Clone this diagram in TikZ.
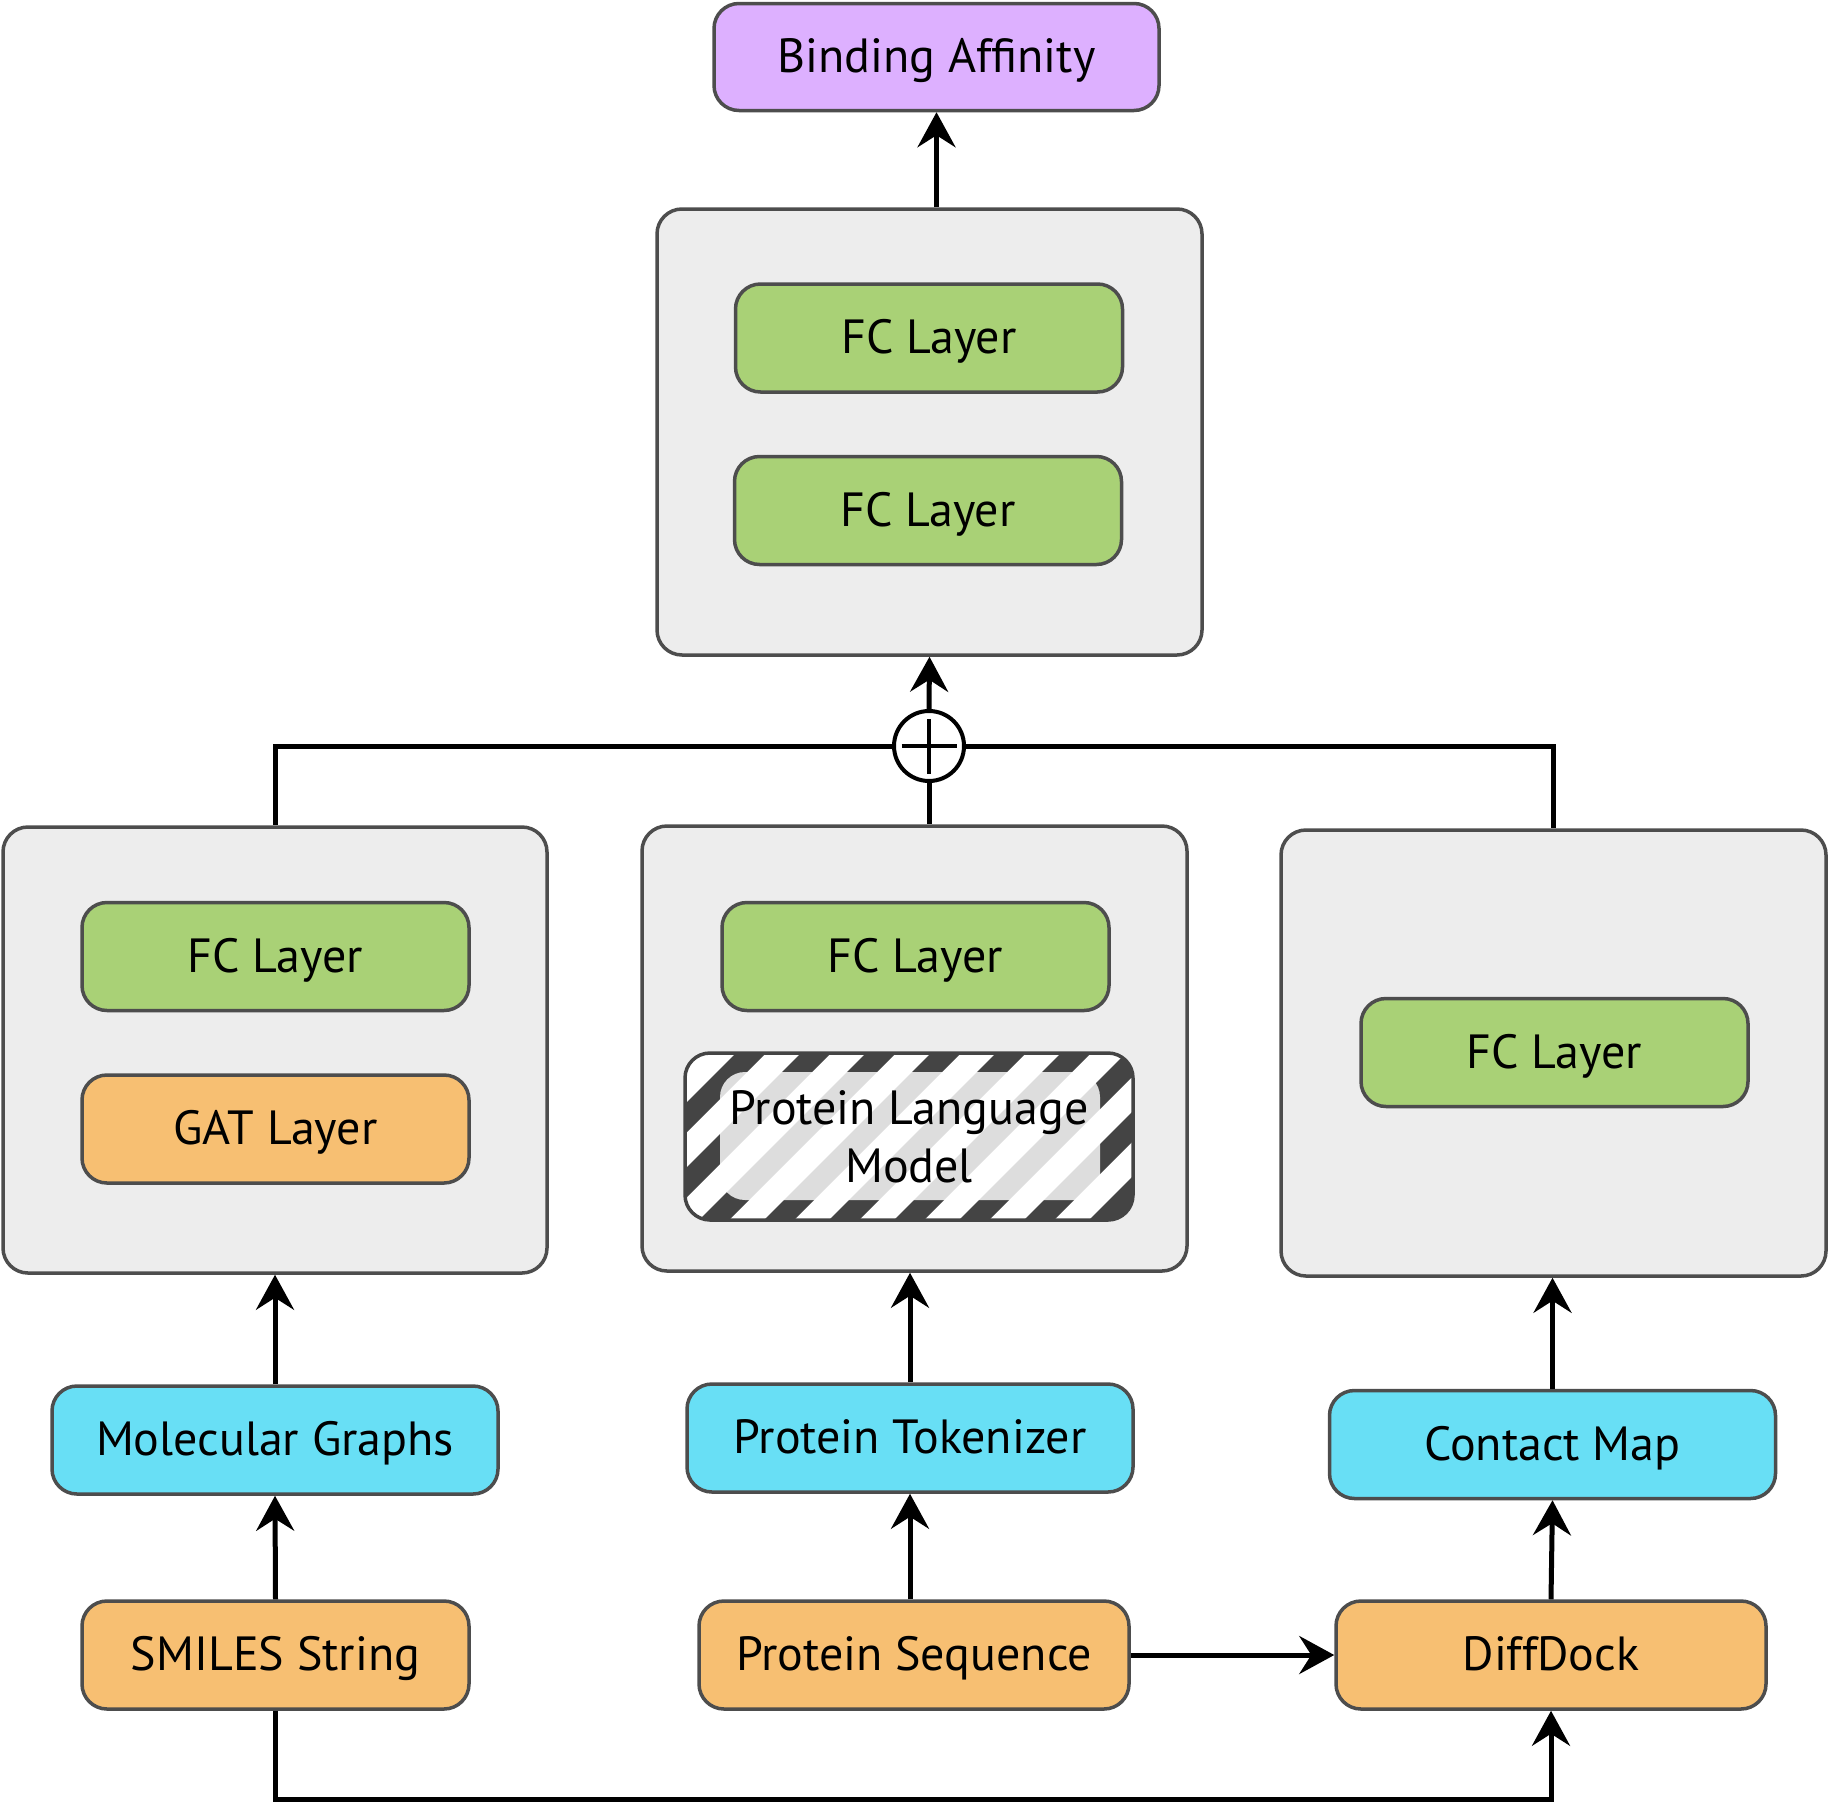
\documentclass[tikz,border=0pt]{standalone}
\usepackage{fontspec}
\setmainfont{PT Sans}
\usetikzlibrary{arrows.meta}
\definecolor{bordc}{HTML}{4D4D4D}
\definecolor{contc}{HTML}{EDEDED}
\definecolor{greenc}{HTML}{A9D176}
\definecolor{orangec}{HTML}{F7BF72}
\definecolor{cyanc}{HTML}{68DFF5}
\definecolor{purplec}{HTML}{DDB0FF}
\definecolor{stripec}{HTML}{444444}
\tikzset{
  blk/.style={draw=bordc, line width=1.75pt, rounded corners=12.5pt, align=center,
    font=\fontsize{24}{29}\selectfont, inner sep=0pt},
  oneline/.style={blk, text height=20pt, text depth=4.5pt},
  cont/.style={blk, fill=contc},
  greenbox/.style={oneline, fill=greenc, minimum width=193.5pt, minimum height=54pt},
  orangebox/.style={oneline, fill=orangec, minimum height=54pt},
  cyanbox/.style={oneline, fill=cyanc, minimum width=223pt, minimum height=54pt},
  conn/.style={line width=2.5pt, black},
  arr/.style={conn, -{Stealth[length=17.5pt, width=19pt, inset=6pt]}},
}
\begin{document}
\begin{tikzpicture}[x=0.5pt, y=-0.5pt]
\useasboundingbox (0,0) rectangle (1830,1804);

% containers
\node[cont, minimum width=272.5pt, minimum height=223pt] (topc) at (929.5,432) {};
\node[cont, minimum width=272pt, minimum height=223pt] (leftc) at (275,1050) {};
\node[cont, minimum width=272.5pt, minimum height=222.5pt] (midc) at (914.5,1048.5) {};
\node[cont, minimum width=272.5pt, minimum height=223pt] (rightc) at (1553.5,1053) {};

% top
\node[oneline, fill=purplec, minimum width=222.5pt, minimum height=53.5pt] (bind) at (936.5,57) {Binding Affinity};
\node[greenbox] (fct1) at (929,338) {FC Layer};
\node[greenbox] (fct2) at (928,510.5) {FC Layer};

% left
\node[greenbox] (fcl) at (275.5,956.5) {FC Layer};
\node[orangebox, minimum width=193.5pt] (gat) at (275.5,1129) {GAT Layer};

% middle
\node[greenbox] (fcm) at (915.5,956.5) {FC Layer};
\node[blk, draw=stripec, fill=white, minimum width=224pt, minimum height=83.5pt,
  path picture={
    \foreach \k in {-10,...,9}{
      \fill[stripec] ([xshift=\k*32.5pt-60pt, yshift=-20pt]path picture bounding box.south) -- ++(15pt,0pt) -- ++(140pt,140pt) -- ++(-15pt,0pt) -- cycle;
    }
    \fill[white, fill opacity=0.82] ([shift={(17.5pt,10pt)}]path picture bounding box.south west) rectangle ([shift={(-16.5pt,-9.5pt)}]path picture bounding box.north east);
  }] (plm) at (909,1136.5) {Protein Language\\Model};

% right
\node[greenbox] (fcr) at (1554.5,1052.5) {FC Layer};

% inputs
\node[cyanbox] (molg) at (275,1440) {Molecular Graphs};
\node[cyanbox] (ptok) at (910,1438) {Protein Tokenizer};
\node[cyanbox] (cmap) at (1552.5,1444.5) {Contact Map};
\node[orangebox, minimum width=193.5pt] (smiles) at (275.5,1655) {SMILES String};
\node[orangebox, minimum width=215pt] (pseq) at (914,1655) {Protein Sequence};
\node[orangebox, minimum width=215pt] (diff) at (1551,1655) {DiffDock};

% concat
\node[draw, line width=2pt, circle, minimum size=35pt, inner sep=0pt, fill=white] (plus) at (929,746) {};
\draw[line width=1.6pt] ([xshift=-13.75pt]plus.center) -- ([xshift=13.75pt]plus.center);
\draw[line width=1.6pt] ([yshift=-13.75pt]plus.center) -- ([yshift=13.75pt]plus.center);

\coordinate (bl) at (275.5,1799);

% connectors
\draw[arr] (bind.south |- topc.north) -- (bind.south);
\draw[arr] (plus.north) -- (topc.south);
\draw[conn] (plus.west) -| (leftc.north);
\draw[conn] (plus.east) -| (rightc.north);
\draw[conn] (plus.south) -- (plus.south |- midc.north);
\draw[arr] (molg.north) -- (leftc.south);
\draw[arr] (ptok.north) -- (ptok.north |- midc.south);
\draw[arr] (cmap.north) -- (cmap.north |- rightc.south);
\draw[arr] (smiles.north) -- (molg.south);
\draw[arr] (ptok.south |- pseq.north) -- (ptok.south);
\draw[arr] (diff.north) -- (cmap.south);
\draw[arr] (pseq.east) -- (diff.west);
\draw[arr] (smiles.south) -- (bl) -| (diff.south);
\end{tikzpicture}
\end{document}
